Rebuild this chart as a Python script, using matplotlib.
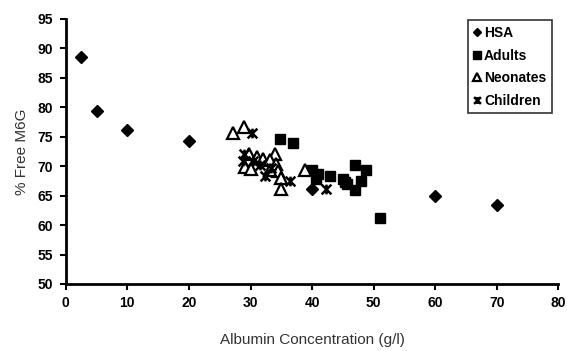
import matplotlib

matplotlib.use("Agg")
import matplotlib.pyplot as plt
from matplotlib.path import Path

plt.rcParams["font.family"] = ["Liberation Sans", "DejaVu Sans"]

hsa_x = [2.5, 5, 10, 20, 39.9, 60, 70]
hsa_y = [88.5, 79.3, 76.1, 74.3, 66.2, 64.9, 63.4]

adults_x = [34.8, 36.9, 39.9, 40.9, 40.7, 42.9, 45.0, 45.6, 45.3, 46.9, 48.8, 48.0, 46.9, 51.0]
adults_y = [74.7, 73.9, 69.4, 68.6, 67.8, 68.4, 67.8, 66.9, 67.3, 70.2, 69.4, 67.5, 65.9, 61.2]

neonates_x = [27.1, 28.9, 29.8, 31.0, 32.0, 33.9, 33.1, 29.1, 30.1, 34.2, 34.5, 34.9, 35.0, 33.1, 38.8]
neonates_y = [75.7, 76.7, 72.0, 71.5, 71.2, 72.0, 71.0, 69.8, 69.5, 70.4, 69.1, 68.0, 66.1, 69.3, 69.3]

children_x = [30.3, 28.9, 28.8, 30.4, 31.5, 32.3, 33.4, 36.4, 42.2]
children_y = [75.6, 72.0, 70.8, 70.8, 70.2, 68.3, 69.7, 67.5, 66.1]

# x with a vertical stroke, like the spreadsheet "star" marker
star = Path(
    [(-1, -1), (1, 1), (-1, 1), (1, -1), (0, -1), (0, 1)],
    [Path.MOVETO, Path.LINETO, Path.MOVETO, Path.LINETO, Path.MOVETO, Path.LINETO],
)

fig, ax = plt.subplots(figsize=(5.67, 3.51), dpi=100)
fig.subplots_adjust(left=0.116, right=0.985, bottom=0.191, top=0.946)

ax.plot(hsa_x, hsa_y, "D", color="black", markersize=6.5, label="HSA", linestyle="none")
ax.plot(adults_x, adults_y, "s", color="black", markersize=7.5, label="Adults", linestyle="none")
ax.plot(neonates_x, neonates_y, "^", markerfacecolor="white", markeredgecolor="black",
        markeredgewidth=1.6, markersize=8, label="Neonates", linestyle="none")
ax.plot(children_x, children_y, marker=star, color="black", markeredgewidth=1.8,
        markersize=7, label="Children", linestyle="none")

ax.set_xlim(0, 80)
ax.set_ylim(50, 95)
ax.set_xticks(range(0, 81, 10))
ax.set_yticks(range(50, 96, 5))

for side in ["top", "right"]:
    ax.spines[side].set_visible(False)
for side in ["left", "bottom"]:
    ax.spines[side].set_linewidth(2)
    ax.spines[side].set_color("black")

ax.tick_params(direction="out", length=4, width=1.5, labelsize=10, pad=5)
for lbl in ax.get_xticklabels() + ax.get_yticklabels():
    lbl.set_fontweight("bold")

ax.set_xlabel("Albumin Concentration (g/l)", fontsize=11, color="#333333", labelpad=16)
ax.set_ylabel("% Free M6G", fontsize=11, color="#333333", labelpad=6)

leg = ax.legend(loc="upper right", bbox_to_anchor=(0.995, 1.01), frameon=True, fancybox=False,
                edgecolor="black", handlelength=0.5, handletextpad=0.25, borderpad=0.4,
                labelspacing=0.62, borderaxespad=0.3, markerscale=0.7,
                prop={"weight": "bold", "size": 10})
leg.get_frame().set_linewidth(1.2)

fig.savefig("out.png", dpi=100)
